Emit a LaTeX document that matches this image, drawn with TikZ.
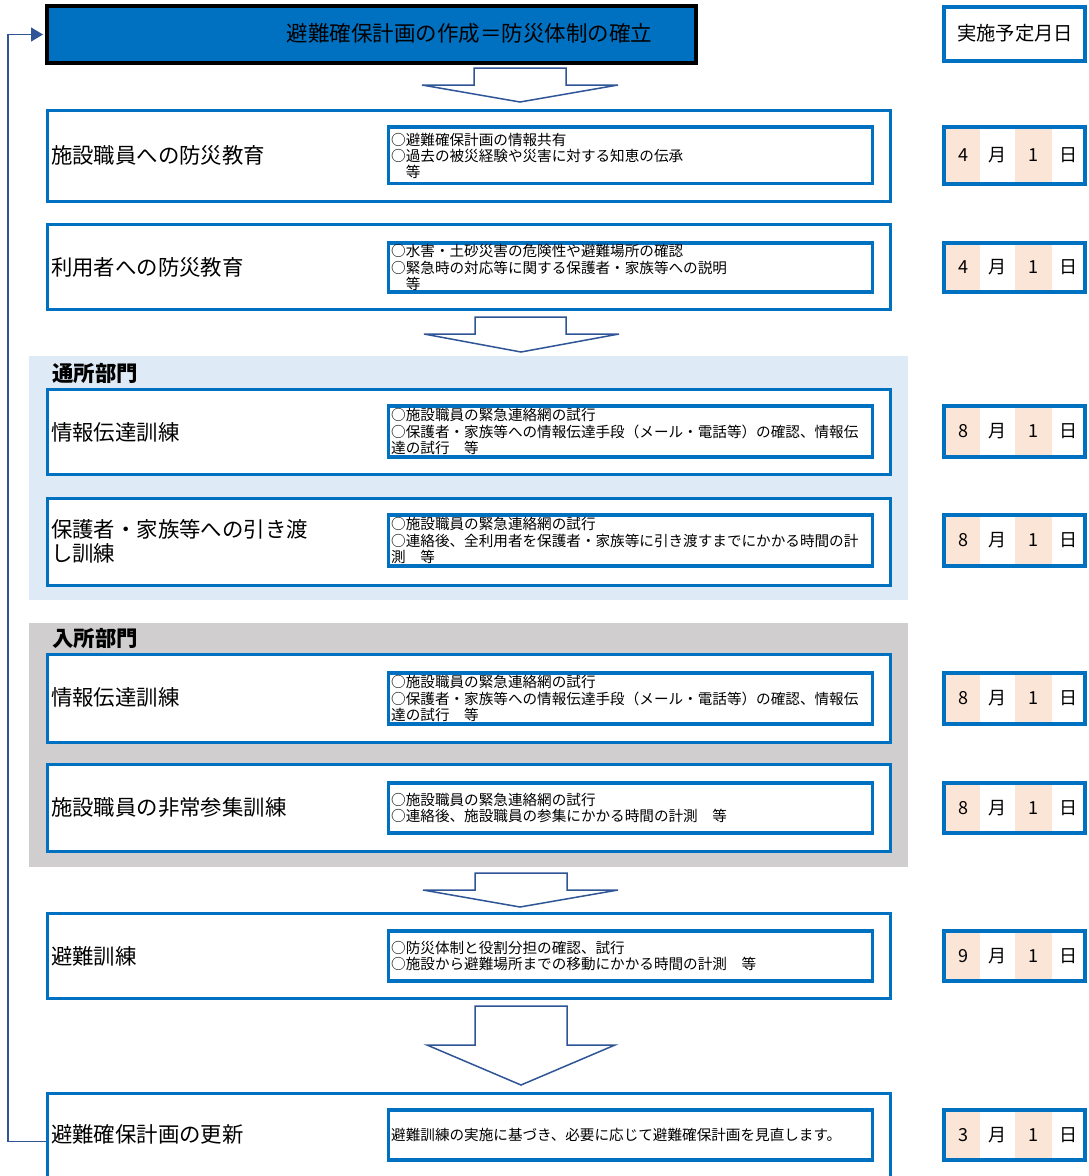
\documentclass[tikz,border=0pt]{standalone}
\usepackage{fontspec}
\setmainfont{Noto Sans CJK JP}
\usetikzlibrary{arrows.meta}
\definecolor{boxblue}{HTML}{0070C0}
\definecolor{arrblue}{HTML}{2F5597}
\definecolor{pinkc}{HTML}{FBE5D6}
\definecolor{lblue}{HTML}{DEEBF7}
\definecolor{lgray}{HTML}{D0CECE}
\tikzset{
  outerbox/.style={draw=boxblue, line width=3pt, fill=white, minimum width=843pt, inner sep=0pt},
  innerbox/.style={draw=boxblue, line width=3.5pt, fill=white, minimum width=484pt, inner sep=0pt},
  datebox/.style={draw=boxblue, line width=4pt, minimum width=141pt, inner sep=0pt},
  lbl/.style={anchor=west, inner sep=0pt, align=left, font=\fontsize{21.4pt}{24pt}\selectfont},
  desc/.style={anchor=west, inner sep=0pt, align=left, font=\fontsize{14.6pt}{16.3pt}\selectfont},
  sect/.style={anchor=west, inner sep=0pt, font=\fontsize{21.4pt}{24pt}\selectfont\bfseries},
  dtxt/.style={inner sep=0pt, font=\fontsize{18pt}{20pt}\selectfont},
  harrow/.style={draw=arrblue, line width=1.5pt, fill=white, line join=miter},
  conn/.style={draw=arrblue, line width=1.5pt, -{Triangle[length=12pt,width=14pt]}}
}
\newcommand\mkdate[4]{%
  \fill[pinkc] (946,{#2-#3/2+2}) rectangle (980,{#2+#3/2-2});
  \fill[pinkc] (1015,{#2-#3/2+2}) rectangle (1052,{#2+#3/2-2});
  \node[datebox, minimum height=#3pt] (#1) at (1014.5,#2) {};
  \node[dtxt] (#1m) at (963,#2) {#4};
  \node[dtxt] (#1g) at (997.5,#2) {月};
  \node[dtxt] (#1d) at (1033.5,#2) {1};
  \node[dtxt] (#1n) at (1068,#2) {日};
}
\begin{document}
\begin{tikzpicture}[x=1pt,y=-1pt]
\useasboundingbox (0,0) rectangle (1088,1176);
\fill[white] (0,0) rectangle (1088,1176);
% section backgrounds
\fill[lblue] (29,356) rectangle (908,600);
\fill[lgray] (29,623) rectangle (908,867);
\node[sect] (s1) at (52,373) {通所部門};
\node[sect] (s2) at (52,638) {入所部門};
% top box
\node[draw=black, line width=4pt, fill=boxblue, minimum width=649pt, minimum height=57pt, inner sep=0pt] (top) at (371.5,34.5) {};
\node[inner sep=0pt, font=\fontsize{21.5pt}{24pt}\selectfont] (title) at (469.5,33) {避難確保計画の作成＝防災体制の確立};
\node[datebox, minimum height=54pt] (hdr) at (1014.5,34) {};
\node[inner sep=0pt, font=\fontsize{19.3pt}{22pt}\selectfont] (hdrt) at (1015,33) {実施予定月日};
% hollow arrows
\draw[harrow] (474,68) -- (566,68) -- (566,85) -- (618,85) -- (520,102) -- (422,85) -- (474,85) -- cycle;
\draw[harrow] (475,317) -- (566,317) -- (566,334) -- (619,334) -- (521,352) -- (424,334) -- (475,334) -- cycle;
\draw[harrow] (475,873) -- (567,873) -- (567,890) -- (618,890) -- (520,907) -- (423,890) -- (475,890) -- cycle;
\draw[harrow] (475,1006) -- (567,1006) -- (567,1045) -- (615,1045) -- (521,1085) -- (427,1045) -- (475,1045) -- cycle;
% row 1
\node[outerbox, minimum height=91pt] (b1) at (468.5,155.5) {};
\node[lbl] (l1) at (51,155) {施設職員への防災教育};
\node[innerbox, minimum height=56.5pt] (i1) at (630.5,155.25) {};
\node[desc] (t1) at (391,156) {○避難確保計画の情報共有\\○過去の被災経験や災害に対する知恵の伝承\\　等};
\mkdate{d1}{155.25}{56.5}{4}
% row 2
\node[outerbox, minimum height=85pt] (b2) at (468.5,266.5) {};
\node[lbl] (l2) at (51,267) {利用者への防災教育};
\node[innerbox, minimum height=49pt] (i2) at (630.5,267.5) {};
\node[desc] (t2) at (391,267.5) {○水害・土砂災害の危険性や避難場所の確認\\○緊急時の対応等に関する保護者・家族等への説明\\　等};
\mkdate{d2}{267.5}{49}{4}
% row 3
\node[outerbox, minimum height=85pt] (b3) at (468.5,431.5) {};
\node[lbl] (l3) at (51,432) {情報伝達訓練};
\node[innerbox, minimum height=51pt] (i3) at (630.5,431.5) {};
\node[desc] (t3) at (391,431.5) {○施設職員の緊急連絡網の試行\\○保護者・家族等への情報伝達手段（メール・電話等）の確認、情報伝\\達の試行　等};
\mkdate{d3}{431.5}{51}{8}
% row 4
\node[outerbox, minimum height=87pt] (b4) at (468.5,541.5) {};
\node[lbl] (l4) at (51,541) {保護者・家族等への引き渡\\し訓練};
\node[innerbox, minimum height=51pt] (i4) at (630.5,540.5) {};
\node[desc] (t4) at (391,540.5) {○施設職員の緊急連絡網の試行\\○連絡後、全利用者を保護者・家族等に引き渡すまでにかかる時間の計\\測　等};
\mkdate{d4}{540.5}{51}{8}
% row 5
\node[outerbox, minimum height=88pt] (b5) at (468.5,698) {};
\node[lbl] (l5) at (51,697) {情報伝達訓練};
\node[innerbox, minimum height=51pt] (i5) at (630.5,698.5) {};
\node[desc] (t5) at (391,698.5) {○施設職員の緊急連絡網の試行\\○保護者・家族等への情報伝達手段（メール・電話等）の確認、情報伝\\達の試行　等};
\mkdate{d5}{698.5}{51}{8}
% row 6
\node[outerbox, minimum height=87pt] (b6) at (468.5,807.5) {};
\node[lbl] (l6) at (51,807) {施設職員の非常参集訓練};
\node[innerbox, minimum height=50pt] (i6) at (630.5,808) {};
\node[desc] (t6) at (391,808) {○施設職員の緊急連絡網の試行\\○連絡後、施設職員の参集にかかる時間の計測　等};
\mkdate{d6}{808}{50}{8}
% row 7
\node[outerbox, minimum height=85pt] (b7) at (468.5,955.5) {};
\node[lbl] (l7) at (51,956) {避難訓練};
\node[innerbox, minimum height=50pt] (i7) at (630.5,956) {};
\node[desc] (t7) at (391,956) {○防災体制と役割分担の確認、試行\\○施設から避難場所までの移動にかかる時間の計測　等};
\mkdate{d7}{956}{50}{9}
% row 8
\node[outerbox, minimum height=97pt] (b8) at (468.5,1141.5) {};
\node[lbl] (l8) at (51,1134) {避難確保計画の更新};
\node[innerbox, minimum height=50pt] (i8) at (630.5,1135) {};
\node[desc] (t8) at (391,1135) {避難訓練の実施に基づき、必要に応じて避難確保計画を見直します。};
\mkdate{d8}{1135}{50}{3}
% feedback connector
\draw[conn, shorten >=2pt] (b8.west) -- ++(-37.5,0) |- (top.west);
\end{tikzpicture}
\end{document}
